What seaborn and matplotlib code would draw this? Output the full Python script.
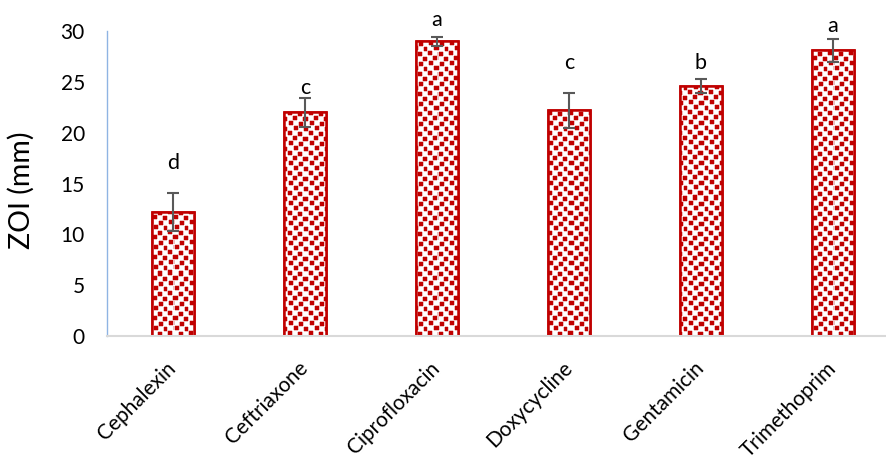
import numpy as np
import pandas as pd
import matplotlib
matplotlib.use("Agg")
import matplotlib.pyplot as plt
from matplotlib.patches import Rectangle
import seaborn as sns

antibiotics = ["Cephalexin", "Ceftriaxone", "Ciprofloxacin", "Doxycycline", "Gentamicin", "Trimethoprim"]
zoi_mean = [12.2, 22.0, 29.0, 22.2, 24.6, 28.1]
zoi_sd = [1.9, 1.4, 0.45, 1.7, 0.65, 1.1]
letters = ["d", "c", "a", "c", "b", "a"]
letter_y = [17.0, 24.4, 31.1, 26.9, 26.9, 30.5]
y_ticks = [0, 5, 10, 15, 20, 25, 30]

RED = "#C00000"

sns.set_theme(style="white")
plt.rcParams["font.family"] = ["Lato", "DejaVu Sans"]

df = pd.DataFrame({"antibiotic": antibiotics, "zoi": zoi_mean})

fig = plt.figure(figsize=(8.86, 4.58), dpi=100)
ax = fig.add_axes([107 / 886, 122 / 458, 792 / 886, 305 / 458])

sns.barplot(data=df, x="antibiotic", y="zoi", color="white", width=0.32,
            edgecolor=RED, linewidth=1.8, saturation=1, ax=ax, zorder=2)
ax.set_xlim(-0.5, 5.5)
ax.set_ylim(0, 30)

# confetti fill: a tiled texture of small soft red squares, clipped to each bar
tile = np.zeros((20, 20))
for r, c in [(0, 1), (1, 11), (5, 6), (6, 16), (10, 2), (11, 12), (15, 7), (16, 17)]:
    tile[r:r + 4, c:c + 4] = 1.0
fig.canvas.draw()
bb = ax.get_window_extent()
h, w = int(round(bb.height)), int(round(bb.width))
mask = np.tile(tile, (h // 20 + 1, w // 20 + 1))[:h, :w]
# soften the square edges a little
soft = mask.copy()
soft[1:, :] += 0.25 * mask[:-1, :]
soft[:-1, :] += 0.25 * mask[1:, :]
soft[:, 1:] += 0.25 * mask[:, :-1]
soft[:, :-1] += 0.25 * mask[:, 1:]
soft = np.clip(soft, 0, 1)
red = np.array([0xC0, 0x00, 0x00]) / 255
rgb = 1 - soft[..., None] * (1 - red)
for patch in list(ax.patches):
    im = ax.imshow(rgb, extent=(-0.5, 5.5, 0, 30), aspect="auto",
                   interpolation="nearest", zorder=2.1, origin="upper")
    im.set_clip_path(patch)
    ax.add_patch(Rectangle((patch.get_x(), patch.get_y()), patch.get_width(), patch.get_height(),
                           fill=False, edgecolor=RED, linewidth=1.8, zorder=2.2))
ax.set_xlim(-0.5, 5.5)
ax.set_ylim(0, 30)

xpos = np.arange(len(antibiotics))
ax.errorbar(xpos, zoi_mean, yerr=zoi_sd, fmt="none", ecolor="#595959",
            elinewidth=1.5, capsize=4.3, capthick=1.5, zorder=3)

for x, lab, ly in zip(xpos, letters, letter_y):
    ax.text(x, ly, lab, ha="center", va="center", fontsize=15.5, color="black", clip_on=False)

for s in ["top", "right"]:
    ax.spines[s].set_visible(False)
ax.spines["left"].set_color("#8FB4E3")
ax.spines["left"].set_linewidth(1.0)
ax.spines["bottom"].set_color("#D9D9D9")
ax.spines["bottom"].set_linewidth(1.5)

ax.set_yticks(y_ticks)
ax.tick_params(axis="y", length=0, pad=16, labelsize=15, labelcolor="black")
ax.tick_params(axis="x", length=0, pad=21, labelsize=15, labelcolor="black")
plt.setp(ax.get_xticklabels(), rotation=45, ha="right", va="center", rotation_mode="anchor")
ax.set_xlabel("")
ax.set_ylabel("ZOI (mm)", fontsize=20.5, color="black", va="center")
ax.yaxis.set_label_coords(-0.108, 0.479)

fig.savefig("out.png", dpi=100)
